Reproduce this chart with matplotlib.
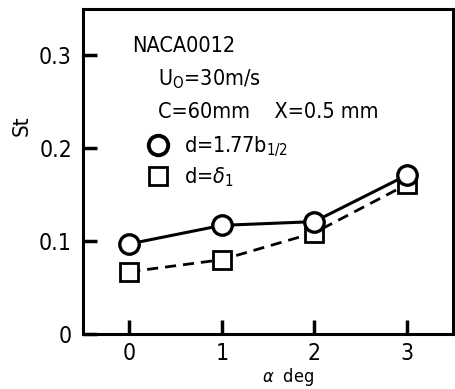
import matplotlib
matplotlib.use("Agg")
import matplotlib.pyplot as plt
from matplotlib.lines import Line2D

alpha = [0, 1, 2, 3]
st_b12 = [0.097, 0.117, 0.121, 0.171]
st_delta = [0.067, 0.080, 0.109, 0.161]
xticks = [0, 1, 2, 3]
yticks = [0, 0.1, 0.2, 0.3]
yticklabels = ["0", "0.1", "0.2", "0.3"]

plt.rcParams['font.family'] = ['DejaVu Sans']
plt.rcParams['font.stretch'] = 'condensed'
plt.rcParams['mathtext.fontset'] = 'dejavusans'

fig = plt.figure(figsize=(4.55, 3.89), dpi=100)
ax = fig.add_axes([83/455, 55/389, 370/455, 325/389])

ax.plot(alpha, st_b12, '-', color='black', lw=2.2, marker='o', ms=14,
        mfc='white', mec='black', mew=2.4, zorder=3)
ax.plot(alpha, st_delta, '--', color='black', lw=2.0, dashes=(4, 2.5), marker='s', ms=13.5,
        mfc='white', mec='black', mew=2.0, zorder=2)

ax.set_xlim(-0.5, 3.5)
ax.set_ylim(0, 0.35)
ax.set_xticks(xticks)
ax.set_yticks(yticks)
ax.set_yticklabels(yticklabels)
ax.tick_params(direction='in', length=10, width=2.5, labelsize=16.5, pad=8)
ax.tick_params(axis='x', pad=6)
for s in ax.spines.values():
    s.set_linewidth(2.2)

ax.set_ylabel('St', fontsize=16)
ax.yaxis.set_label_coords(-0.14, 0.64)
ax.set_xlabel(r'$\alpha$  deg', fontsize=13)
ax.xaxis.set_label_coords(0.555, -0.1)

ax.text(0.133, 0.885, 'NACA0012', transform=ax.transAxes, fontsize=15.5, va='center')
ax.text(0.203, 0.785, r'U$_{\mathrm{O}}$=30m/s', transform=ax.transAxes, fontsize=15.5, va='center')
ax.text(0.203, 0.683, 'C=60mm    X=0.5 mm', transform=ax.transAxes, fontsize=15.5, va='center')

handles = [Line2D([], [], ls='none', marker='o', ms=14, mfc='white', mec='black', mew=2.8),
           Line2D([], [], ls='none', marker='s', ms=13.5, mfc='white', mec='black', mew=2.0)]
labels = [r'd=1.77b$_{1/2}$', r'd=$\delta_1$']
ax.legend(handles, labels, loc='upper left', bbox_to_anchor=(0.14, 0.645), frameon=False,
          fontsize=15.5, handletextpad=0.6, labelspacing=0.3, borderpad=0, handlelength=1.2)

fig.savefig('out.png', dpi=100)
